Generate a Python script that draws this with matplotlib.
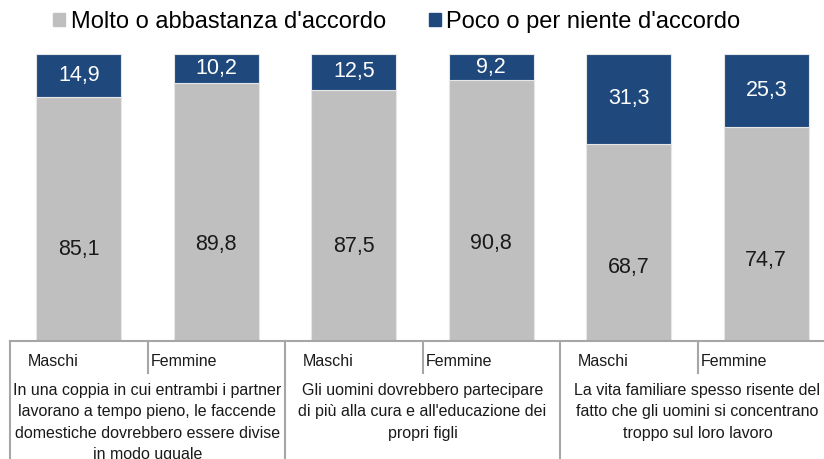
import matplotlib
matplotlib.use("Agg")
import matplotlib.pyplot as plt
import numpy as np

plt.rcParams['font.family'] = ['Liberation Sans', 'DejaVu Sans']

genders = ["Maschi", "Femmine", "Maschi", "Femmine", "Maschi", "Femmine"]
molto = [85.1, 89.8, 87.5, 90.8, 68.7, 74.7]
poco = [14.9, 10.2, 12.5, 9.2, 31.3, 25.3]
statements = [
    "In una coppia in cui entrambi i partner\nlavorano a tempo pieno, le faccende\ndomestiche dovrebbero essere divise\nin modo uguale",
    "Gli uomini dovrebbero partecipare\ndi più alla cura e all'educazione dei\npropri figli",
    "La vita familiare spesso risente del\nfatto che gli uomini si concentrano\ntroppo sul loro lavoro",
]
series_labels = ["Molto o abbastanza d'accordo", "Poco o per niente d'accordo"]

gray = "#BFBFBF"
blue = "#1F497D"
line_col = "#A6A6A6"

W, H = 824, 459
fig = plt.figure(figsize=(W / 100, H / 100), dpi=100)
# axes: left 10px, slot ~137.5px, bottom line at y=341, top (100%) at y=54
slot = 137.5
ax = fig.add_axes([10 / W, (H - 341) / H, 6 * slot / W, 287 / H])
x = np.arange(len(molto))
ax.bar(x, molto, width=0.62, color=gray, edgecolor="#E6E6E6", linewidth=0.8)
ax.bar(x, poco, width=0.62, bottom=molto, color=blue, edgecolor="#E6E6E6", linewidth=0.8)
ax.set_xlim(-0.5, 5.5)
ax.set_ylim(0, 100)
for s in ["top", "right", "left"]:
    ax.spines[s].set_visible(False)
ax.spines["bottom"].set_color(line_col)
ax.spines["bottom"].set_linewidth(1.5)
ax.set_xticks([])
ax.set_yticks([])

for i in range(len(molto)):
    ax.text(x[i], molto[i] * 0.375, f"{molto[i]:.1f}".replace(".", ","),
            ha="center", va="center", fontsize=15.5, color="#1a1a1a")
    ax.text(x[i], molto[i] + poco[i] / 2, f"{poco[i]:.1f}".replace(".", ","),
            ha="center", va="center", fontsize=15.5, color="white")

# category separators below the axis
def px_x(p):
    return p / W

def px_y(p):
    return 1 - p / H

for k in range(4):
    xp = 10 + k * 2 * slot
    fig.add_artist(plt.Line2D([px_x(xp), px_x(xp)], [px_y(341), 0], color=line_col, lw=1.5))
for k in range(3):
    xp = 10 + (2 * k + 1) * slot
    fig.add_artist(plt.Line2D([px_x(xp), px_x(xp)], [px_y(341), px_y(373)], color=line_col, lw=1.5))

for i, g in enumerate(genders):
    if i % 2 == 0:
        xp = 10 + i * slot + 18
    else:
        xp = 10 + i * slot + 3
    fig.text(px_x(xp), px_y(361), g, ha="left", va="center", fontsize=11.5, color="#1a1a1a")

for k, st in enumerate(statements):
    xc = 10 + (2 * k + 1) * slot
    fig.text(px_x(xc), px_y(383), st, ha="center", va="top", fontsize=11.5,
             color="#1a1a1a", linespacing=1.53)

# legend
handles = [plt.Rectangle((0, 0), 1, 1, color=gray), plt.Rectangle((0, 0), 1, 1, color=blue)]
fig.legend(handles, series_labels, loc="center", bbox_to_anchor=(px_x(397), px_y(22)),
           ncol=2, frameon=False, fontsize=17, handlelength=0.5, handleheight=0.5,
           handletextpad=0.25, columnspacing=1.8)

fig.savefig("out.png", dpi=100)
